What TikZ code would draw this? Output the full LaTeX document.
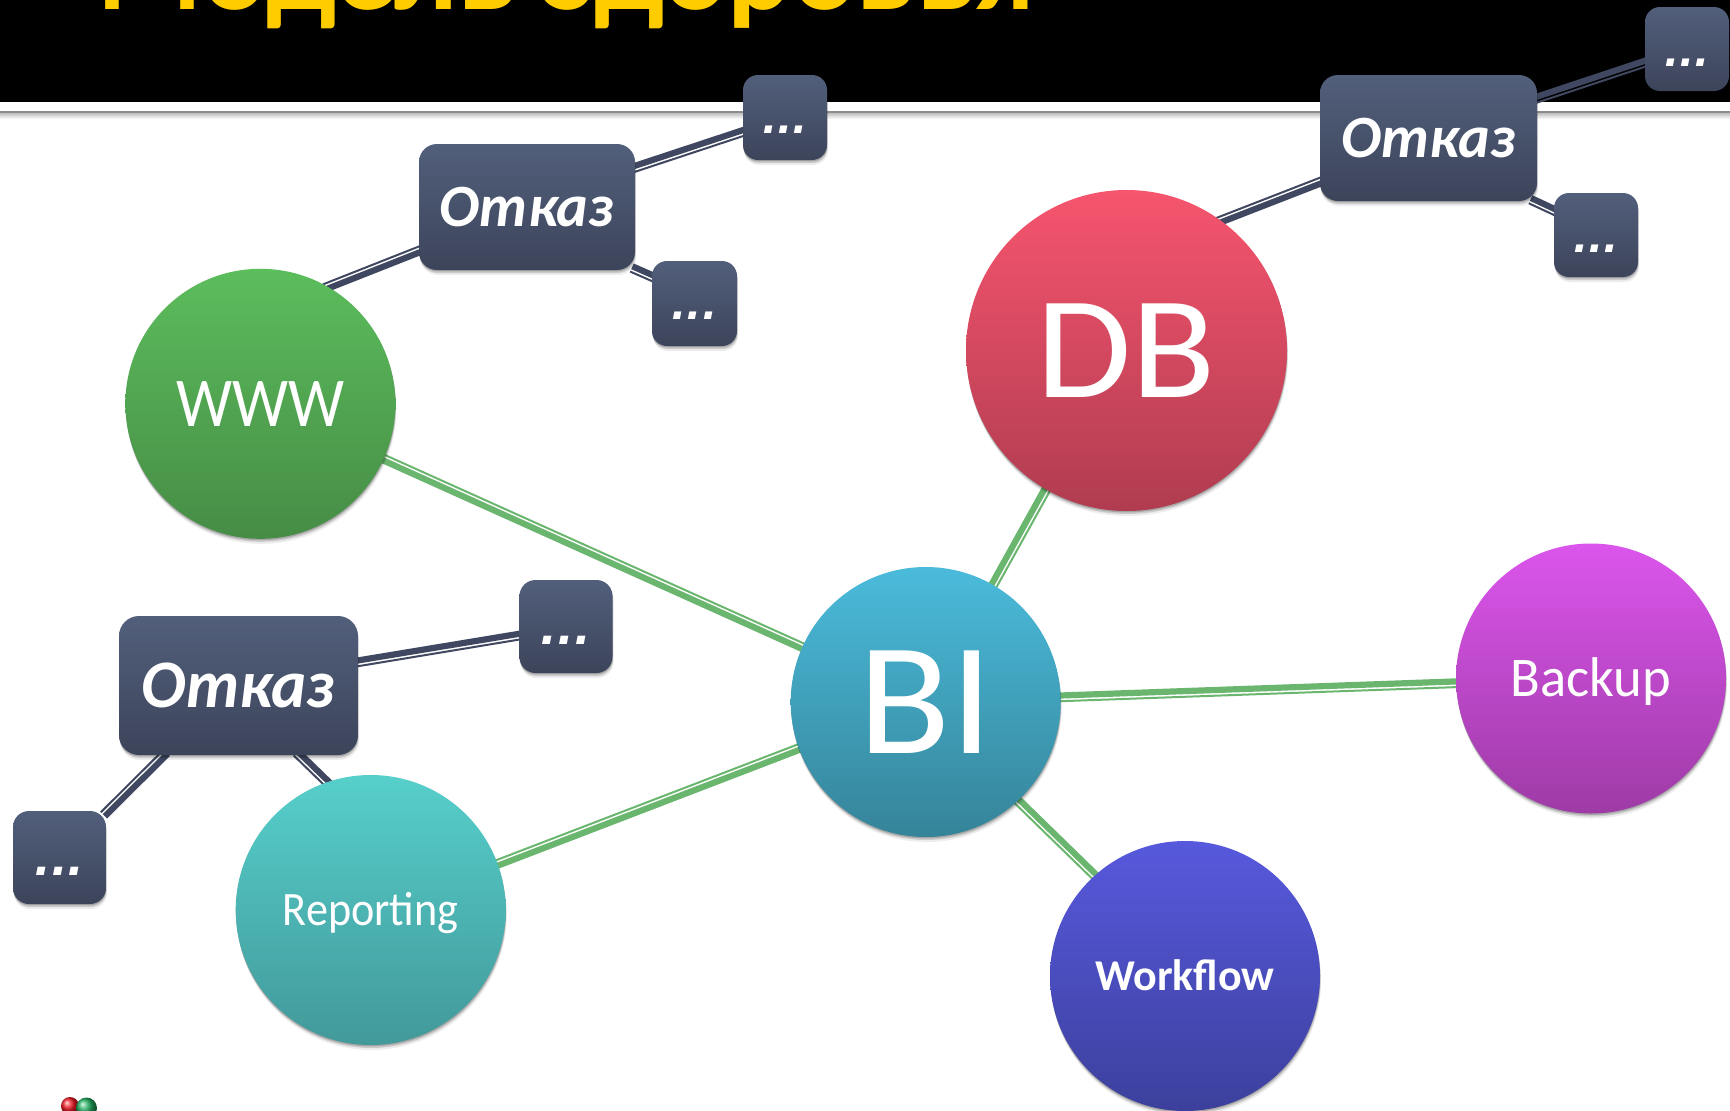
\documentclass[tikz,border=0pt]{standalone}
\usepackage{fontspec}
\usepackage{graphicx}
\setmainfont{Carlito}
\newfontfamily\dotsfont{DejaVu Sans}
\usetikzlibrary{calc,shadows,shadings,backgrounds}
\definecolor{hdryellow}{HTML}{FFCC00}
\definecolor{linkdark}{HTML}{3F4860}
\definecolor{linkgreen}{HTML}{6BB66F}
\definecolor{boxtop}{HTML}{525F7B}
\definecolor{boxbot}{HTML}{3C445A}
\definecolor{logoR}{HTML}{F01C24}
\definecolor{logoG}{HTML}{22B060}
\definecolor{wwwT}{HTML}{5CBD5C}\definecolor{wwwB}{HTML}{468C46}
\definecolor{dbT}{HTML}{F6556E}\definecolor{dbB}{HTML}{B03C50}
\definecolor{biT}{HTML}{4BBBDB}\definecolor{biB}{HTML}{358499}
\definecolor{bkT}{HTML}{DB55EC}\definecolor{bkB}{HTML}{9E3BA6}
\definecolor{wfT}{HTML}{5759DD}\definecolor{wfB}{HTML}{3C409C}
\definecolor{rpT}{HTML}{56CFCB}\definecolor{rpB}{HTML}{42999A}
\newcommand\capc[1]{\rule{0pt}{.644em}\smash{#1}}
\newcommand\fsz[1]{\fontsize{#1}{#1}\selectfont}
% label with horizontal scaling: size, x-scale, text
\newcommand\lab[3]{\fsz{#1}\capc{\scalebox{#2}[1]{#3}}}
% the three square dots: size, drop of the baseline below the node centre
\newcommand\dotlab[2]{\smash{\raisebox{-#2}{\fsz{#1}\dotsfont\bfseries\itshape ...}}}
% connector: thick stroke left of the travel direction, thin stroke right of it
\newcommand\conn[3]{%
  \draw[#1,line width=3.1pt,shorten <=-2pt,shorten >=-2pt] ($(#2)!.9pt!90:(#3)$) -- ($(#3)!.9pt!-90:(#2)$);
  \draw[#1,line width=1pt,shorten <=-2pt,shorten >=-2pt] ($(#2)!1.95pt!-90:(#3)$) -- ($(#3)!1.95pt!90:(#2)$);
}
\tikzset{
  softshadow/.style={
    drop shadow={shadow xshift=.1pt,shadow yshift=-.7pt,opacity=.18,fill=black},
    drop shadow={shadow xshift=.3pt,shadow yshift=-1.5pt,opacity=.14,fill=black},
    drop shadow={shadow xshift=.5pt,shadow yshift=-2.5pt,opacity=.07,fill=black}},
  ball/.style n args={3}{circle,minimum size=#3,inner sep=0pt,
    top color=#1,bottom color=#2,softshadow,text=white},
  wbox/.style n args={3}{rectangle,minimum width=#1,minimum height=#2,inner sep=0pt,rounded corners=#3,
    top color=boxtop,bottom color=boxbot,softshadow,text=white,font=\bfseries\itshape},
  darklink/.style={draw=linkdark},
  greenlink/.style={draw=linkgreen},
}
\begin{document}
\begin{tikzpicture}[x=.5pt,y=-.5pt]
\clip (0,0) rectangle (1730,1110);
\begin{pgfonlayer}{background}
  \fill[white] (0,0) rectangle (1730,1110);
  \fill[black] (0,0) rectangle (1730,102);
  \fill[black!45] (0,111) rectangle (1730,113);
  \shade[top color=black!25,bottom color=white] (0,113) rectangle (1730,119);
  \node[anchor=base,text=hdryellow,font=\fsz{60}\bfseries] (title) at (566,9) {Модель здоровья};
  \shade[ball color=logoR] (70,1106) circle (9);
  \shade[ball color=logoG] (86.5,1108) circle (10.5);
\end{pgfonlayer}

\node[ball={wwwT}{wwwB}{135pt}] (www) at (260.4,403.8) {\lab{35}{.9}{WWW}};
\node[ball={dbT}{dbB}{160.5pt}] (db) at (1126.5,350.5) {\lab{73}{1.06}{DB}};
\node[ball={biT}{biB}{135pt}] (bi) at (925.7,702) {\lab{80}{1.06}{BI}};
\node[ball={bkT}{bkB}{135pt}] (backup) at (1591,678.5) {\lab{28}{.975}{Backup}};
\node[ball={wfT}{wfB}{135pt}] (workflow) at (1185,976) {\fsz{22}\bfseries\capc{Workflow}};
\node[ball={rpT}{rpB}{135pt}] (reporting) at (370.7,910) {\lab{24}{.92}{Repor\kern0pt ting}};

\node[wbox={108pt}{63pt}{9pt}] (otk1) at (527,207) {\fsz{30}\capc{Отказ}};
\node[wbox={42pt}{42.5pt}{7.5pt}] (dots1) at (785,117.5) {\dotlab{20}{8pt}};
\node[wbox={42.5pt}{42.5pt}{7.5pt}] (dots2) at (694.5,303.5) {\dotlab{20}{8pt}};
\node[wbox={108.5pt}{63pt}{9pt}] (otk2) at (1428.5,138) {\fsz{30}\capc{Отказ}};
\node[wbox={42pt}{42pt}{7.5pt}] (dots3) at (1687,49) {\dotlab{20}{8.5pt}};
\node[wbox={42pt}{42pt}{7.5pt}] (dots4) at (1596,235) {\dotlab{20}{8.5pt}};
\node[wbox={119.5pt}{69.5pt}{10pt}] (otk3) at (238.5,685.5) {\lab{34}{.98}{Отказ}};
\node[wbox={46.5pt}{46.5pt}{8pt}] (dots5) at (566,626.5) {\dotlab{22}{8.75pt}};
\node[wbox={46.5pt}{46.5pt}{8pt}] (dots6) at (59.5,857.5) {\dotlab{22}{8.75pt}};

\begin{pgfonlayer}{background}
  \conn{darklink}{otk1.202.4}{www.60}
  \conn{darklink}{otk1.20.5}{dots1.199}
  \conn{darklink}{otk1.330}{dots2.148}
  \conn{darklink}{otk2.202.5}{db.54.9}
  \conn{darklink}{otk2.20.3}{dots3.198.4}
  \conn{darklink}{otk2.329}{dots4.150}
  \conn{darklink}{otk3.11.3}{dots5.191.5}
  \conn{darklink}{otk3.223.6}{dots6.44.7}
  \conn{darklink}{otk3.311}{reporting.109.6}
  \conn{greenlink}{bi.156}{www.336.5}
  \conn{greenlink}{bi.200.9}{reporting.20.5}
  \conn{greenlink}{bi.60.3}{db.240.7}
  \conn{greenlink}{bi.2.3}{backup.182}
  \conn{greenlink}{bi.313.4}{workflow.132.7}
\end{pgfonlayer}
\end{tikzpicture}
\end{document}
